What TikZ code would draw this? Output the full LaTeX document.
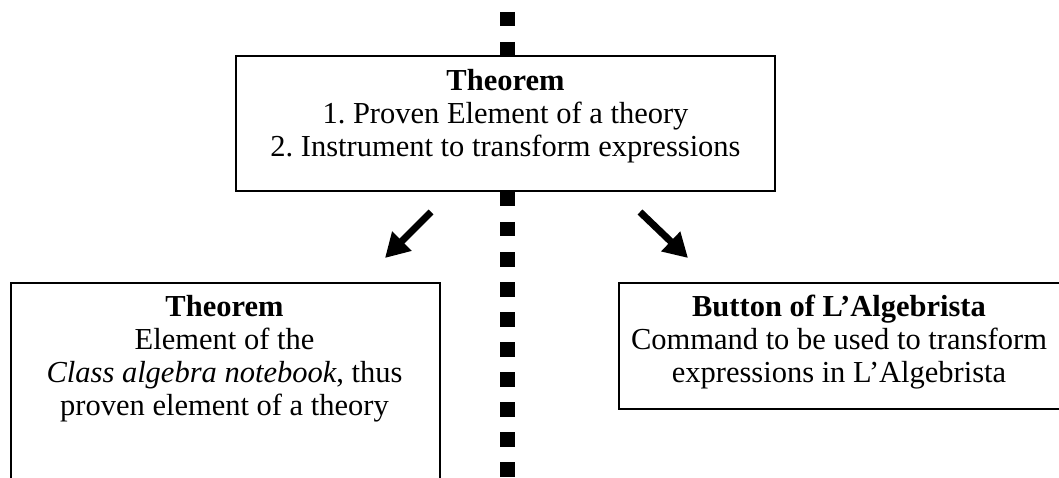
\documentclass[tikz,border=0pt]{standalone}
\usepackage{fontspec}
\setmainfont{Liberation Serif}
\usetikzlibrary{arrows.meta}
\begin{document}
\frenchspacing
\begin{tikzpicture}[x=1pt,y=1pt,
  boxshape/.style={draw=black, line width=2pt, fill=white, rectangle, inner sep=0pt},
  boxtext/.style={align=center, font=\fontsize{30.5}{33}\selectfont, inner sep=0pt},
  bigarrow/.style={line width=7pt, -{Triangle[width=26pt,length=24pt]}},
  divider/.style={line width=15pt, dash pattern=on 14.5pt off 15.5pt}]
\useasboundingbox (0,0) rectangle (1059,-478);
\coordinate (dtop) at (507,-12);
\coordinate (dbot) at (507,-480);
\draw[divider] (dtop) -- (dbot);
% top box
\node[boxshape, minimum width=539pt, minimum height=135pt] (topbox) at (505.5,-123.5) {};
\node[boxtext] (toptext) at (505.5,-116) {\textbf{Theorem}\\1. Proven Element of a theory\\2. Instrument to transform expressions};
% left box
\node[boxshape, minimum width=429pt, minimum height=240pt, anchor=north west] (leftbox) at (10,-282) {};
\node[boxtext] (lefttext) at (224.5,-359) {\textbf{Theorem}\\Element of the\\\textit{Class algebra notebook}, thus\\proven element of a theory};
% right box
\node[boxshape, minimum width=444pt, minimum height=126pt, anchor=north west] (rightbox) at (618,-282) {};
\node[boxtext] (righttext) at (839,-342) {\textbf{Button of L’Algebrista}\\Command to be used to transform\\expressions in L’Algebrista};
% arrows
\coordinate (las) at (431,-212);
\coordinate (lae) at (385,-258);
\coordinate (ras) at (640,-212);
\coordinate (rae) at (688,-258);
\draw[bigarrow] (las) -- (lae);
\draw[bigarrow] (ras) -- (rae);
\end{tikzpicture}
\end{document}
